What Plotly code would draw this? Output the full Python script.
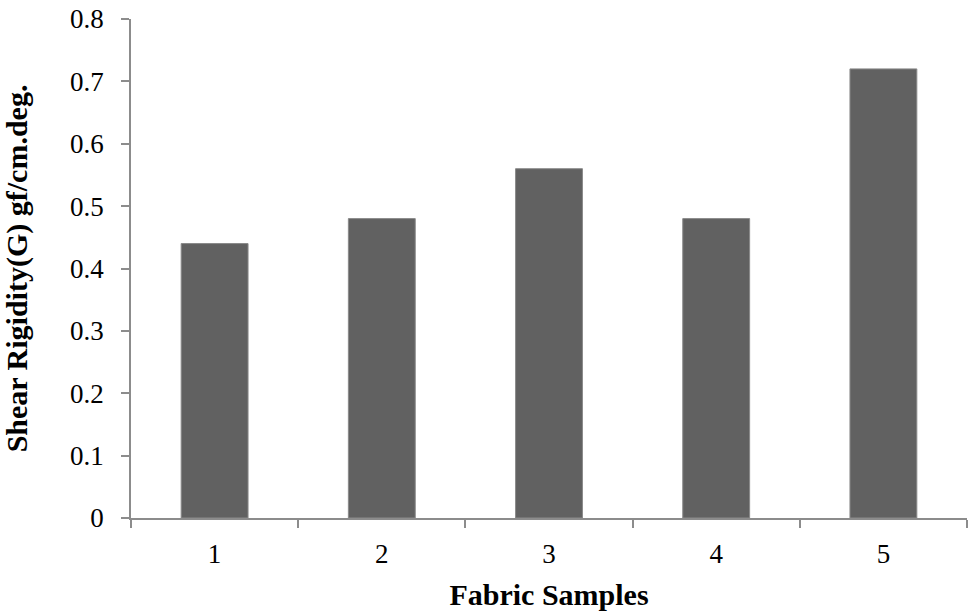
import plotly.graph_objects as go

samples = ["1", "2", "3", "4", "5"]
shear_rigidity = [0.44, 0.48, 0.56, 0.48, 0.72]

serif = "Liberation Serif, Times New Roman, serif"
axis_grey = "#8c8c8c"

fig = go.Figure()
fig.add_trace(go.Bar(
    x=samples,
    y=shear_rigidity,
    marker_color="#616161",
    marker_line_color="#8a8a8a",
    marker_line_width=1,
    width=0.4,
))

fig.update_layout(
    width=969, height=616,
    margin=dict(l=131, r=2, t=19, b=98),
    plot_bgcolor="white", paper_bgcolor="white",
    font=dict(family=serif, color="black", size=27),
    showlegend=False,
)
fig.update_xaxes(
    type="category",
    tickson="boundaries",
    ticks="outside", ticklen=8, tickcolor=axis_grey, tickwidth=1.5,
    showline=True, linecolor=axis_grey, linewidth=1.5,
    showgrid=False, automargin=False,
    tickfont=dict(size=27),
    ticklabelstandoff=11,
    title=dict(text="<b>Fabric Samples</b>", font=dict(size=30), standoff=16),
)
fig.update_yaxes(
    range=[0, 0.8], dtick=0.1,
    ticks="outside", ticklen=8, tickcolor=axis_grey, tickwidth=1.5,
    showline=True, linecolor=axis_grey, linewidth=1.5,
    showgrid=False, zeroline=False, automargin=False,
    tickfont=dict(size=27),
    ticklabelstandoff=12,
    ticklabeloverflow="allow",
    title=dict(text="<b>Shear Rigidity(G) gf/cm.deg.</b>", font=dict(size=30), standoff=37),
)

# drop the default 8px body margin so the figure fills the window
fig.write_html("out.html", config={"displayModeBar": False},
               post_script="document.body.style.margin='0';")
